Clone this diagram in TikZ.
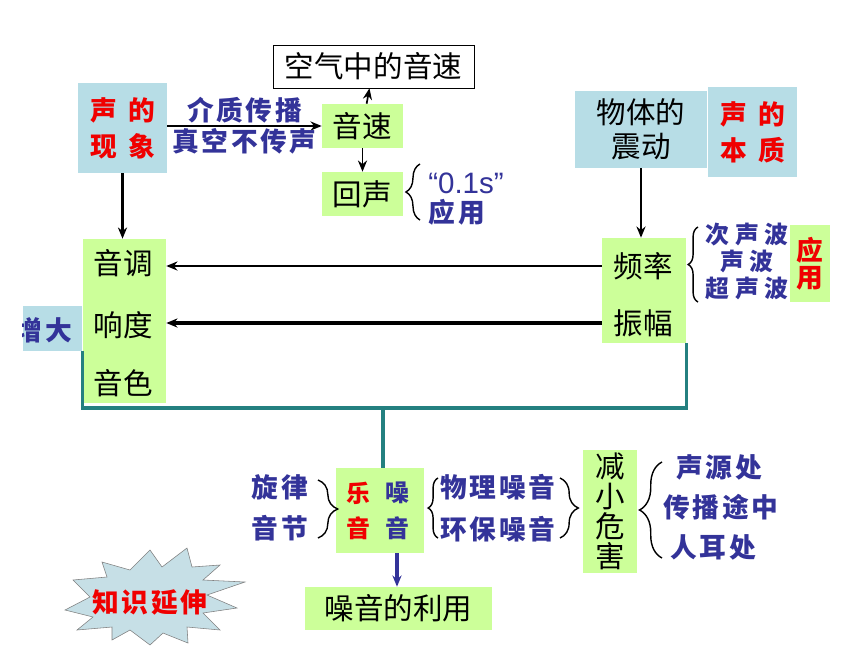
\documentclass[tikz,border=0pt]{standalone}
\usepackage{fontspec}
\setmainfont{Noto Sans CJK SC}
\newfontfamily\xiwen{Liberation Sans}
\usepackage{xcolor}
\usepackage{tikz}
\usetikzlibrary{arrows.meta,decorations.pathreplacing}
\definecolor{lvse}{RGB}{204,255,153}
\definecolor{qianlan}{RGB}{183,221,230}
\definecolor{lanse}{RGB}{51,51,153}
\definecolor{hongse}{RGB}{240,0,0}
\definecolor{qingse}{RGB}{36,128,128}
\definecolor{xingse}{RGB}{198,223,230}

\begin{document}
\begin{tikzpicture}[x=0.025cm, y=-0.025cm, >={Stealth[length=8pt,width=6.5pt]},
        lvkuang/.style={fill=lvse, inner sep=0pt},
        lankuang/.style={fill=qianlan, inner sep=0pt},
        heizi/.style={font=\fontsize{21}{24}\selectfont},
        lanzi/.style={text=lanse, inner sep=0pt, font=\fontsize{19}{20}\selectfont\bfseries\addfontfeature{LetterSpace=10}},
        xiaolan/.style={text=lanse, inner sep=0pt, font=\fontsize{17}{18}\selectfont\bfseries\addfontfeature{LetterSpace=22}},
        hongzi/.style={text=hongse, font=\fontsize{19}{25.5}\selectfont\bfseries},
        kuohao/.style={decorate, decoration={brace, amplitude=#1}, line width=1pt},
        kuohao/.default=7pt]
        \useasboundingbox (0,0) rectangle (860,645);
        \node [draw, fill=white, heizi, inner sep=0pt, minimum width=5.025cm, minimum height=1.075cm] (kongqi) at (373.5,66.5) {空气中的音速};
        \node [lankuang, hongzi, align=center, minimum width=2.225cm, minimum height=2.25cm] (xianxiang) at (122.5,128) {声\hspace{8pt}的\\现\hspace{8pt}象};
        \node [lvkuang, heizi, minimum width=2.025cm, minimum height=1.1cm] (yinsu) at (362.5,126) {音速};
        \node [lvkuang, heizi, minimum width=2.025cm, minimum height=1.1cm] (huisheng) at (362.5,194) {回声};
        \node [text=lanse, inner sep=0pt, font=\fontsize{21}{22}\selectfont\xiwen] (lingdian) at (466,183) {“0.1s”};
        \node [lanzi] (huiyong) at (457,212) {应用};
        \draw [kuohao=10pt] (420,220) -- (420,164);
        \draw [->, line width=1.6pt] (xianxiang.east |- yinsu) -- node [lanzi, above=1pt] (jiezhi) {介质传播} node [lanzi, below=1pt] (zhenkong) {真空不传声} (yinsu.west);
        \draw [->, line width=1.2pt] (yinsu) -- (kongqi);
        \draw [->, line width=1.2pt] (yinsu) -- (huisheng);

        \node [lankuang, heizi, align=center, minimum width=3.3cm, minimum height=1.925cm] (zhendong) at (641,129.5) {物体的\\震动};
        \node [lankuang, hongzi, align=center, minimum width=2.225cm, minimum height=2.25cm] (benzhi) at (752.5,132) {声\hspace{8pt}的\\本\hspace{8pt}质};
        \node [lvkuang, minimum width=2.1cm, minimum height=2.625cm] (youkuang) at (644,290.5) {};
        \node [heizi] (pinlv) at (643,266) {频率};
        \node [heizi] (zhenfu) at (643,323) {振幅};
        \draw [->, line width=2pt] (zhendong.south) -- (zhendong.south |- youkuang.north);
        \node [lvkuang, hongzi, align=center, font=\fontsize{19}{19}\selectfont\bfseries, minimum width=1cm, minimum height=1.925cm] (yingyong) at (810,263.5) {应\\用};
        \node [xiaolan] (cishengbo) at (747,235) {次声波};
        \node [xiaolan] (shengbo) at (747,261) {声波};
        \node [xiaolan] (chaoshengbo) at (747,288) {超声波};
        \draw [kuohao=7pt] (698,302) -- (698,227);

        \node [lvkuang, minimum width=2.075cm, minimum height=4.1cm] (zuokuang) at (124.5,321) {};
        \node [heizi] (yindiao) at (123,263) {音调};
        \node [heizi] (xiangdu) at (123,325) {响度};
        \node [heizi] (yinse) at (123,383) {音色};
        \draw [->, line width=2pt] (xianxiang.south) -- (xianxiang.south |- zuokuang.north);
        \draw [->, line width=1.3pt] (youkuang.west |- pinlv) -- (zuokuang.east |- pinlv);
        \draw [->, line width=2.2pt] (youkuang.west |- zhenfu) -- (zuokuang.east |- zhenfu);
        \node [lankuang, minimum width=1.475cm, minimum height=1.125cm] (zengda) at (52.5,328.5) {};
        \begin{scope}
        \clip (zengda.north west) rectangle (zengda.south east);
        \node [lanzi] (zengdazi) at (44,330) {增大};
        \end{scope}

        \node [lvkuang, minimum width=2.2cm, minimum height=2.125cm] (yuezao) at (380,510.5) {};
        \node [hongzi, font=\fontsize{17}{18}\selectfont\bfseries] (le) at (358,493) {乐};
        \node [text=lanse, font=\fontsize{17}{18}\selectfont\bfseries] (zao) at (397,493) {噪};
        \node [hongzi, font=\fontsize{17}{18}\selectfont\bfseries] (yinhong) at (358,528) {音};
        \node [text=lanse, font=\fontsize{17}{18}\selectfont\bfseries] (yinlan) at (397,528) {音};
        \node [lanzi] (xuanlv) at (280,487) {旋律};
        \node [lanzi] (yinjie) at (280,528) {音节};
        \draw [kuohao=14pt] (318,480) -- (318,538);
        \draw [kuohao=7pt] (438,538) -- (438,478);
        \node [lanzi] (wuli) at (498,487) {物理噪音};
        \node [lanzi] (huanbao) at (498,529) {环保噪音};
        \draw [kuohao=13pt] (560,478) -- (560,538);
        \node [lvkuang, align=center, font=\fontsize{21}{21.3}\selectfont, minimum width=1.35cm, minimum height=3.075cm] (jianxiao) at (610,511.5) {减\\小\\危\\害};
        \draw [kuohao=16pt] (662,558) -- (662,462);
        \node [lanzi] (shengyuan) at (719,467) {声源处};
        \node [lanzi] (chuanbo) at (721,507) {传播途中};
        \node [lanzi] (rener) at (713,547) {人耳处};
        \node [lvkuang, heizi, minimum width=4.675cm, minimum height=1.075cm] (liyong) at (398.5,608.5) {噪音的利用};
        \draw [->, lanse, line width=2.2pt] (yuezao.south -| zao) -- (liyong.north -| zao);

        \coordinate (fenzhi) at (383,408);
        \draw [qingse, line width=2.2pt] (zengda.south east) |- (fenzhi) -| (youkuang.south east);
        \draw [qingse, line width=2.2pt] (fenzhi) -- (fenzhi |- yuezao.north);

        \draw [fill=xingse, draw=gray] (65,610) -- (90,597) -- (73,580) -- (107,577) -- (102,562) -- (130,570) -- (150,550) -- (162,567) -- (187,548) -- (192,567) -- (220,565) -- (203,580) -- (245,582) -- (207,595) -- (237,608) -- (203,613) -- (220,630) -- (187,627) -- (188,643) -- (163,633) -- (150,645) -- (130,630) -- (112,640) -- (112,627) -- (77,630) -- (93,617) -- cycle;
        \node [text=hongse, font=\fontsize{19}{20}\selectfont\bfseries\addfontfeature{LetterSpace=10}] (zhishi) at (150,602) {知识延伸};
\end{tikzpicture}
\end{document}
